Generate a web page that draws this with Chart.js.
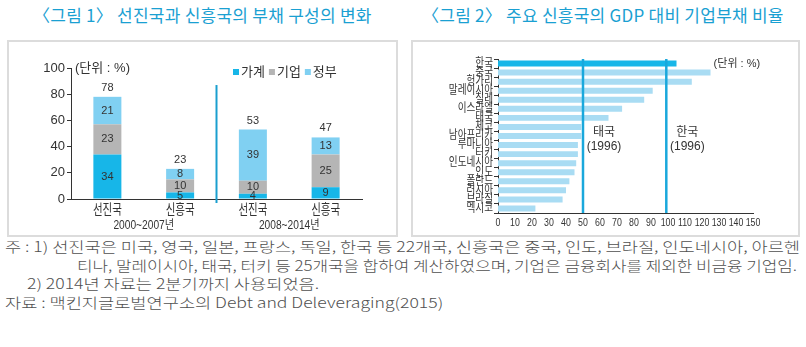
<!DOCTYPE html>
<html><head><meta charset="utf-8">
<script src="https://cdn.jsdelivr.net/npm/chart.js@4"></script>
<style>
body{margin:0;width:806px;height:347px;background:#fff;position:relative;overflow:hidden;font-family:"Liberation Sans","Noto Sans CJK KR",sans-serif;}
.title{position:absolute;top:2px;color:#1aa0d2;font-size:17px;letter-spacing:0.25px;font-family:"Noto Sans CJK KR";white-space:nowrap;}
.box{position:absolute;border:2px solid #dcdcdc;box-sizing:border-box;}
canvas{position:absolute}
.note{position:absolute;font-size:14px;color:#505050;white-space:nowrap;transform-origin:0 50%;font-family:"Noto Sans CJK KR";font-weight:300;line-height:16px}
</style></head>
<body>
<div class="title" style="left:33px">〈그림 1〉 선진국과 신흥국의 부채 구성의 변화</div>
<div class="title" style="left:422px">〈그림 2〉 주요 신흥국의 GDP 대비 기업부채 비율</div>
<div class="box" style="left:7px;top:40px;width:391px;height:197px"></div>
<div class="box" style="left:411px;top:40px;width:389px;height:197px"></div>
<canvas id="c1" width="389" height="194" style="left:8px;top:42px"></canvas>
<canvas id="c2" width="387" height="193" style="left:412px;top:42px"></canvas>
<div class="note" data-w="795" style="left:5px;top:238px">주 : 1) 선진국은 미국, 영국, 일본, 프랑스, 독일, 한국 등 22개국, 신흥국은 중국, 인도, 브라질, 인도네시아, 아르헨</div>
<div class="note" data-w="720" style="left:77px;top:257px">티나, 말레이시아, 태국, 터키 등 25개국을 합하여 계산하였으며, 기업은 금융회사를 제외한 비금융 기업임.</div>
<div class="note" style="left:27px;top:275px">2) 2014년 자료는 2분기까지 사용되었음.</div>
<div class="note" style="left:5px;top:294px">자료 : 맥킨지글로벌연구소의 Debt and Deleveraging(2015)</div>
<script>
const KR = '"Liberation Sans","Noto Sans CJK KR",sans-serif';
// Figure 1 data
const groups = ['선진국','신흥국','선진국','신흥국'];
const periods = ['2000~2007년','2008~2014년'];
const seriesNames = ['가계','기업','정부'];
const household = [34,5,4,9];
const corporate = [23,10,10,25];
const government = [21,8,39,13];
const totals = [78,23,53,47];
const yTicks1 = [0,20,40,60,80,100];
// Figure 2 data
const countries = ['한국','중국','헝가리','말레이시아','칠레','이스라엘','태국','체코','남아프리카','루마니아','터키','인도네시아','인도','폴란드','러시아','브라질','멕시코'];
const corpDebt = [105,125,114,91,86,73,65,49,49,47,47,46,45,42,40,38,22];
const refNames = [['태국','(1996)'],['한국','(1996)']];
const refValues = [50,99];

const colors = ['#17b6e8','#b5b5b5','#80d0f2'];

// fit notes
const notes = document.querySelectorAll('.note');
const sc0 = 795 / notes[0].getBoundingClientRect().width;
notes.forEach(n=>{
  const w = n.dataset.w ? (+n.dataset.w / n.getBoundingClientRect().width) : sc0;
  n.style.transform='scaleX('+w+')';
});

function narrowText(ctx, txt, x, y, sx){
  ctx.save(); ctx.translate(x, y); ctx.scale(sx, 1); ctx.fillText(txt, 0, 0); ctx.restore();
}

const fig1Plugin = {
  id:'fig1',
  afterDatasetsDraw(chart){
    const ctx = chart.ctx, xs = chart.scales.x, ys = chart.scales.y, ca = chart.chartArea;
    ctx.save();
    ctx.fillStyle = '#333';
    ctx.textAlign = 'center'; ctx.textBaseline = 'middle';
    ctx.font = '11px '+KR;
    chart.data.datasets.forEach((ds,di)=>{
      chart.getDatasetMeta(di).data.forEach((bar,i)=>{
        ctx.fillText(String(ds.data[i]), bar.x, (bar.y+bar.base)/2);
      });
    });
    const top = chart.getDatasetMeta(2).data;
    totals.forEach((t,i)=>{ ctx.fillText(String(t), top[i].x, top[i].y-9); });
    // category labels (condensed)
    ctx.font = '14px '+KR;
    groups.forEach((g,i)=>{ narrowText(ctx, g, xs.getPixelForValue(i), ca.bottom+11, 0.75); });
    // divider
    const xm = (xs.getPixelForValue(1)+xs.getPixelForValue(2))/2;
    ctx.strokeStyle = '#1a9fcf'; ctx.lineWidth = 2;
    ctx.beginPath(); ctx.moveTo(xm, ys.getPixelForValue(87)); ctx.lineTo(xm, ca.bottom+4); ctx.stroke();
    // periods
    ctx.font = '12px '+KR; ctx.fillStyle='#333';
    periods.forEach((p,k)=>{
      const x = (xs.getPixelForValue(2*k)+xs.getPixelForValue(2*k+1))/2;
      narrowText(ctx, p, x, ca.bottom+27, 0.85);
    });
    // unit
    ctx.textAlign='left'; ctx.font='13px '+KR;
    ctx.fillText('(단위 : %)', ca.left+4, ys.getPixelForValue(100));
    // legend
    let lx = 225; const ly = 30;
    ctx.font = '13px '+KR;
    seriesNames.forEach((s,i)=>{
      ctx.fillStyle = colors[i]; ctx.fillRect(lx, ly-3, 6, 6);
      lx += 8; ctx.fillStyle='#333'; ctx.fillText(s, lx, ly);
      lx += ctx.measureText(s).width + 4;
    });
    ctx.restore();
  }
};

new Chart(document.getElementById('c1'), {
  type:'bar',
  data:{labels:groups, datasets:[
    {label:seriesNames[0], data:household, backgroundColor:colors[0]},
    {label:seriesNames[1], data:corporate, backgroundColor:colors[1]},
    {label:seriesNames[2], data:government, backgroundColor:colors[2]}]},
  options:{
    responsive:false, animation:false, devicePixelRatio:1,
    layout:{padding:{top:26,right:35,bottom:7,left:0}},
    datasets:{bar:{barPercentage:0.385, categoryPercentage:1}},
    plugins:{legend:{display:false}, tooltip:{enabled:false}},
    scales:{
      x:{stacked:true, grid:{display:false, drawTicks:false}, border:{color:'#333'},
         ticks:{display:false},
         afterFit:s=>{s.height=30;}},
      y:{stacked:true, min:0, max:100, afterBuildTicks:s=>{s.ticks = yTicks1.map(v=>({value:v}));},
         ticks:{color:'#333', font:{size:13, family:KR}, padding:2},
         grid:{drawOnChartArea:false, tickLength:4, color:'#333'}, border:{color:'#333'},
         afterFit:s=>{s.width=63;}}
    }
  },
  plugins:[fig1Plugin]
});

const fig2Plugin = {
  id:'fig2',
  afterDatasetsDraw(chart){
    const ctx = chart.ctx, xs = chart.scales.x, ys = chart.scales.y, ca = chart.chartArea;
    ctx.save();
    ctx.strokeStyle = '#1aa8dc'; ctx.lineWidth = 2.5;
    refValues.forEach((v,i)=>{
      const x = xs.getPixelForValue(v);
      ctx.beginPath(); ctx.moveTo(x, ca.top); ctx.lineTo(x, ca.bottom); ctx.stroke();
      ctx.fillStyle='#333'; ctx.textAlign='center'; ctx.textBaseline='middle';
      ctx.font = '12px '+KR;
      ctx.fillText(refNames[i][0], x+21, ca.top+74);
      ctx.fillText(refNames[i][1], x+21, ca.top+88);
    });
    // x tick labels (condensed)
    ctx.font = '11px '+KR; ctx.fillStyle='#333'; ctx.textAlign='center'; ctx.textBaseline='middle';
    xs.ticks.forEach(t=>{
      narrowText(ctx, String(t.value), xs.getPixelForValue(t.value), ca.bottom+10, 0.8);
    });
    // y category labels (condensed)
    ctx.font = '12px '+KR; ctx.textAlign='right';
    countries.forEach((c,i)=>{
      narrowText(ctx, c, ca.left-5, ys.getPixelForValue(i), 0.8);
    });
    ctx.font='11px '+KR; ctx.fillStyle='#333'; ctx.textAlign='center';
    ctx.fillText('(단위 : %)', xs.getPixelForValue(140.5), ca.top+5);
    ctx.restore();
  }
};

new Chart(document.getElementById('c2'), {
  type:'bar',
  data:{labels:countries, datasets:[{data:corpDebt,
    backgroundColor:countries.map((c,i)=> i===0 ? '#17b6e8' : '#a9dcf3')}]},
  options:{
    indexAxis:'y', responsive:false, animation:false, devicePixelRatio:1,
    layout:{padding:{top:17,right:46,bottom:6,left:0}},
    datasets:{bar:{barPercentage:0.66, categoryPercentage:1}},
    plugins:{legend:{display:false}, tooltip:{enabled:false}},
    scales:{
      x:{min:0, max:150, ticks:{stepSize:10, display:false},
         grid:{display:false}, border:{color:'#333'}, afterFit:s=>{s.height=16;}},
      y:{ticks:{display:false},
         grid:{drawOnChartArea:false, tickLength:4, color:'#333', offset:true}, border:{color:'#333'},
         afterFit:s=>{s.width=86;}}
    }
  },
  plugins:[fig2Plugin]
});
</script>
</body></html>
